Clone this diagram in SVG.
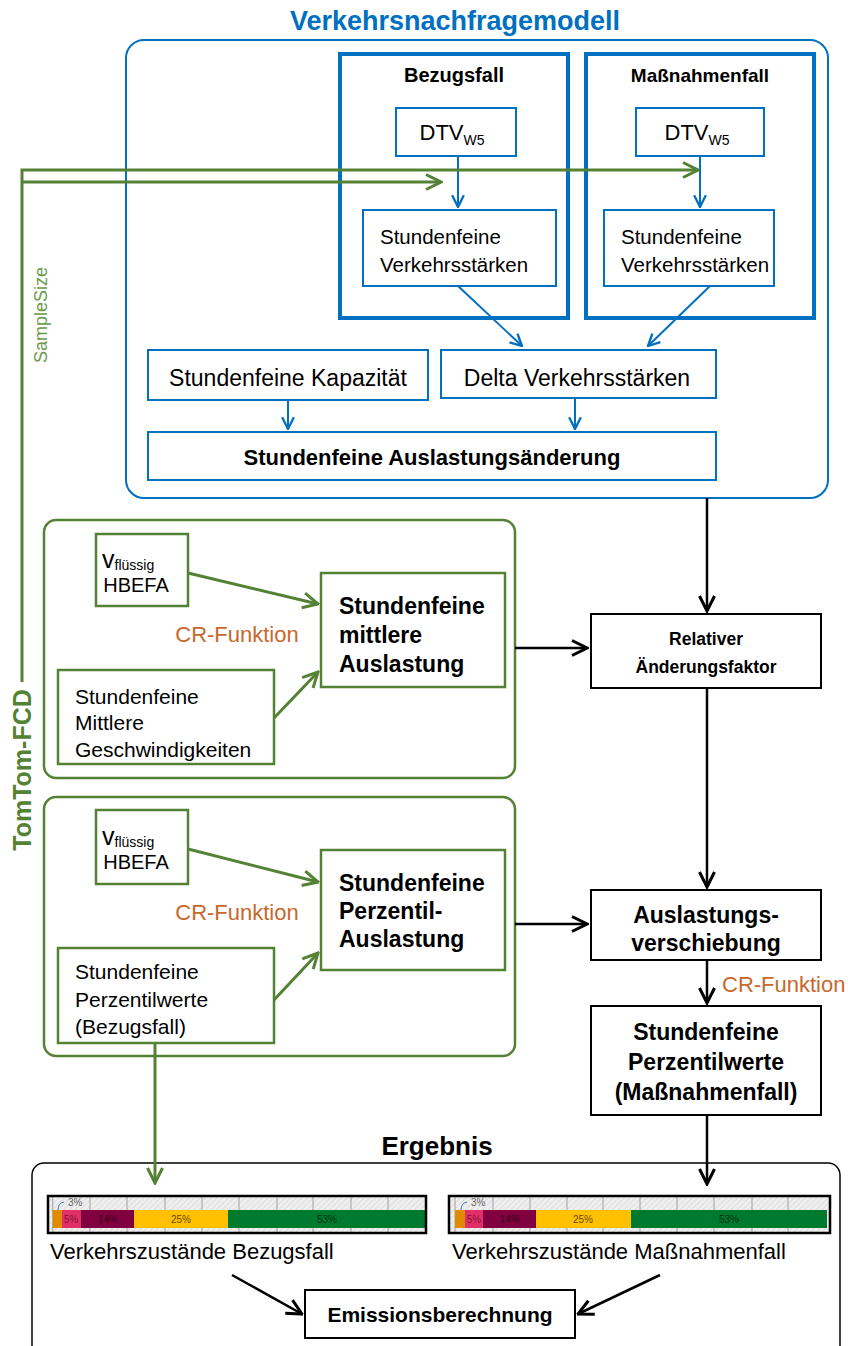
<svg xmlns="http://www.w3.org/2000/svg" width="848" height="1346" viewBox="0 0 848 1346">
<style>
text{font-family:"Liberation Sans",Arial,sans-serif;fill:#000;}
.t{font-size:20.5px;}
.b{font-weight:bold;}
.mid{text-anchor:middle;}
.bl{fill:#fff;stroke:#0070C0;stroke-width:2;}
.blt{fill:none;stroke:#0070C0;stroke-width:4;}
.gb{fill:none;stroke:#548235;stroke-width:2.5;}
.gn{fill:#fff;stroke:#548235;stroke-width:2.5;}
.kb{fill:#fff;stroke:#000;stroke-width:2;}
.cb{fill:none;stroke:#0070C0;stroke-width:2;marker-end:url(#ab);}
.cg{fill:none;stroke:#548235;stroke-width:3;marker-end:url(#ag);}
.ck{fill:none;stroke:#000;stroke-width:2.5;marker-end:url(#ak);}
.cr{fill:#C8682C;font-size:22px;}
.grid{stroke:#a0a0a0;stroke-width:1;}
.pl{font-size:10px;}
.g21{font-size:21px;}
.bb{font-weight:bold;font-size:23px;}
</style>
<defs>
<marker id="ab" viewBox="0 0 12 12" markerWidth="14" markerHeight="14" markerUnits="userSpaceOnUse" refX="11" refY="6" orient="auto"><path d="M1,1 L11,6 L1,11" fill="none" stroke="#0070C0" stroke-width="2"/></marker>
<marker id="ag" viewBox="0 0 12 12" markerWidth="18" markerHeight="18" markerUnits="userSpaceOnUse" refX="11" refY="6" orient="auto"><path d="M1,1 L11,6 L1,11" fill="none" stroke="#548235" stroke-width="2"/></marker>
<marker id="ak" viewBox="0 0 12 12" markerWidth="18" markerHeight="18" markerUnits="userSpaceOnUse" refX="11" refY="6" orient="auto"><path d="M1,1 L11,6 L1,11" fill="none" stroke="#000" stroke-width="2"/></marker>
<pattern id="hatch" width="4" height="4" patternUnits="userSpaceOnUse" patternTransform="rotate(45)"><rect width="4" height="4" fill="#efefef"/><line x1="0" y1="0" x2="0" y2="4" stroke="#d8d8d8" stroke-width="1.5"/></pattern>
</defs>

<g id="verkehrsnachfragemodell">
<text x="455" y="30" class="mid b" style="font-size:27px;fill:#0070C0">Verkehrsnachfragemodell</text>
<rect x="126" y="40" width="702" height="458" rx="18" fill="none" stroke="#0070C0" stroke-width="2"/>
</g>

<g id="bezugsfall">
<rect x="340" y="54" width="228" height="264" class="blt"/>
<text x="454" y="82" class="mid b" style="font-size:20px">Bezugsfall</text>
</g>
<g id="massnahmenfall">
<rect x="586" y="54" width="228" height="264" class="blt"/>
<text x="700" y="82" class="mid b" style="font-size:19px">Maßnahmenfall</text>
</g>

<g id="dtv1">
<rect x="396" y="108" width="120" height="48" class="bl"/>
<text x="452" y="140" class="mid" style="font-size:22px">DTV<tspan dy="5" style="font-size:14px">W5</tspan></text>
</g>
<g id="dtv2">
<rect x="636" y="108" width="128" height="48" class="bl"/>
<text x="697" y="140" class="mid" style="font-size:22px">DTV<tspan dy="5" style="font-size:14px">W5</tspan></text>
</g>

<g id="stv1">
<rect x="363" y="210" width="193" height="76" class="bl"/>
<text x="380" y="244" class="t">Stundenfeine</text>
<text x="380" y="272" class="t">Verkehrsstärken</text>
</g>
<g id="stv2">
<rect x="604" y="210" width="170" height="76" class="bl"/>
<text x="621" y="244" class="t">Stundenfeine</text>
<text x="621" y="272" class="t">Verkehrsstärken</text>
</g>

<g id="kapazitaet">
<rect x="148" y="350" width="280" height="50" class="bl"/>
<text x="288" y="386" class="mid" style="font-size:23px">Stundenfeine Kapazität</text>
</g>
<g id="delta">
<rect x="441" y="350" width="275" height="48" class="bl"/>
<text x="577" y="386" class="mid" style="font-size:23px">Delta Verkehrsstärken</text>
</g>
<g id="auslastungsaenderung">
<rect x="148" y="432" width="568" height="48" class="bl"/>
<text x="432" y="465" class="mid b" style="font-size:22px">Stundenfeine Auslastungsänderung</text>
</g>

<g id="tomtom">
<text transform="translate(47,315) rotate(-90)" class="mid" style="font-size:18px;fill:#6B9A4B">SampleSize</text>
<text transform="translate(31,770) rotate(-90)" class="mid b" style="font-size:25px;fill:#548235">TomTom-FCD</text>
</g>

<g id="gruppe-mittlere">
<rect x="44" y="520" width="471" height="258" rx="12" class="gb"/>
</g>
<g id="vfl1">
<rect x="96" y="534" width="92" height="72" class="gn"/>
<text x="102" y="568" style="font-size:25px">v<tspan dy="2" style="font-size:14px">flüssig</tspan></text>
<text x="136" y="592" class="mid" style="font-size:20px">HBEFA</text>
</g>
<g id="mittlere-auslastung">
<rect x="321" y="573" width="184" height="114" class="gn"/>
<text x="339" y="614" class="bb">Stundenfeine</text>
<text x="339" y="643" class="bb">mittlere</text>
<text x="339" y="672" class="bb">Auslastung</text>
</g>
<text x="237" y="642" class="cr mid">CR-Funktion</text>
<g id="geschwindigkeiten">
<rect x="58" y="670" width="216" height="94" class="gn"/>
<text x="75" y="704" class="g21">Stundenfeine</text>
<text x="75" y="730" class="g21">Mittlere</text>
<text x="75" y="757" class="g21">Geschwindigkeiten</text>
</g>

<g id="gruppe-perzentil">
<rect x="44" y="797" width="471" height="259" rx="12" class="gb"/>
</g>
<g id="vfl2">
<rect x="96" y="810" width="92" height="74" class="gn"/>
<text x="102" y="845" style="font-size:25px">v<tspan dy="2" style="font-size:14px">flüssig</tspan></text>
<text x="136" y="869" class="mid" style="font-size:20px">HBEFA</text>
</g>
<g id="perzentil-auslastung">
<rect x="321" y="850" width="184" height="120" class="gn"/>
<text x="339" y="891" class="bb">Stundenfeine</text>
<text x="339" y="919" class="bb">Perzentil-</text>
<text x="339" y="947" class="bb">Auslastung</text>
</g>
<text x="237" y="920" class="cr mid">CR-Funktion</text>
<g id="perzentilwerte-bezug">
<rect x="58" y="948" width="216" height="95" class="gn"/>
<text x="75" y="979" class="g21">Stundenfeine</text>
<text x="75" y="1007" class="g21">Perzentilwerte</text>
<text x="75" y="1034" class="g21">(Bezugsfall)</text>
</g>

<g id="relativer">
<rect x="591" y="614" width="230" height="74" class="kb"/>
<text x="706" y="645" class="mid b" style="font-size:17.5px">Relativer</text>
<text x="706" y="673" class="mid b" style="font-size:17.5px">Änderungsfaktor</text>
</g>
<g id="verschiebung">
<rect x="591" y="890" width="230" height="70" class="kb"/>
<text x="706" y="923" class="mid bb">Auslastungs-</text>
<text x="706" y="951" class="mid bb">verschiebung</text>
</g>
<text x="722" y="992" class="cr">CR-Funktion</text>
<g id="perzentilwerte-massnahme">
<rect x="591" y="1006" width="230" height="109" class="kb"/>
<text x="706" y="1040" class="mid bb">Stundenfeine</text>
<text x="706" y="1070" class="mid bb">Perzentilwerte</text>
<text x="706" y="1100" class="mid bb">(Maßnahmenfall)</text>
</g>

<g id="ergebnis">
<text x="437" y="1155" class="mid b" style="font-size:26px">Ergebnis</text>
<rect x="32" y="1163" width="808" height="200" rx="12" fill="none" stroke="#000" stroke-width="1.5"/>
</g>

<g id="bar-bezug">
<rect x="48" y="1196" width="378" height="37" fill="url(#hatch)"/>
<g class="grid">
<line x1="52.7" y1="1197" x2="52.7" y2="1232"/><line x1="90" y1="1197" x2="90" y2="1232"/><line x1="127" y1="1197" x2="127" y2="1232"/><line x1="165" y1="1197" x2="165" y2="1232"/><line x1="202" y1="1197" x2="202" y2="1232"/><line x1="239" y1="1197" x2="239" y2="1232"/><line x1="277" y1="1197" x2="277" y2="1232"/><line x1="313" y1="1197" x2="313" y2="1232"/><line x1="351" y1="1197" x2="351" y2="1232"/><line x1="388" y1="1197" x2="388" y2="1232"/>
</g>
<rect x="52.7" y="1210" width="9.3" height="18" fill="#E08A00"/>
<rect x="62" y="1210" width="19" height="18" fill="#E0306A"/>
<rect x="81" y="1210" width="53" height="18" fill="#800040"/>
<rect x="134" y="1210" width="94" height="18" fill="#FFC000"/>
<rect x="228" y="1210" width="197" height="18" fill="#007A2E"/>
<path d="M58,1210 Q58,1203 64,1202" fill="none" stroke="#3A7FC0" stroke-width="1"/>
<text x="68" y="1206" class="pl" style="fill:#666">3%</text>
<text x="71" y="1223" class="pl mid" style="fill:#8A1035">5%</text>
<text x="108" y="1223" class="pl mid" style="fill:#3A0018">14%</text>
<text x="181" y="1223" class="pl mid" style="fill:#6A4A00">25%</text>
<text x="327" y="1223" class="pl mid" style="fill:#003015">53%</text>
<rect x="48" y="1196" width="378" height="37" fill="none" stroke="#000" stroke-width="2.5"/>
<text x="50" y="1259" style="font-size:22px">Verkehrszustände Bezugsfall</text>
</g>

<g id="bar-massnahme">
<rect x="449" y="1196" width="381" height="37" fill="url(#hatch)"/>
<g class="grid">
<line x1="455" y1="1197" x2="455" y2="1232"/><line x1="493" y1="1197" x2="493" y2="1232"/><line x1="530" y1="1197" x2="530" y2="1232"/><line x1="567" y1="1197" x2="567" y2="1232"/><line x1="603" y1="1197" x2="603" y2="1232"/><line x1="640" y1="1197" x2="640" y2="1232"/><line x1="677" y1="1197" x2="677" y2="1232"/><line x1="714" y1="1197" x2="714" y2="1232"/><line x1="752" y1="1197" x2="752" y2="1232"/><line x1="788" y1="1197" x2="788" y2="1232"/>
</g>
<rect x="455" y="1210" width="10" height="18" fill="#E08A00"/>
<rect x="465" y="1210" width="18" height="18" fill="#E0306A"/>
<rect x="483" y="1210" width="53" height="18" fill="#800040"/>
<rect x="536" y="1210" width="95" height="18" fill="#FFC000"/>
<rect x="631" y="1210" width="196" height="18" fill="#007A2E"/>
<path d="M461,1210 Q461,1203 467,1202" fill="none" stroke="#3A7FC0" stroke-width="1"/>
<text x="471" y="1206" class="pl" style="fill:#666">3%</text>
<text x="474" y="1223" class="pl mid" style="fill:#8A1035">5%</text>
<text x="510" y="1223" class="pl mid" style="fill:#3A0018">14%</text>
<text x="583" y="1223" class="pl mid" style="fill:#6A4A00">25%</text>
<text x="729" y="1223" class="pl mid" style="fill:#003015">53%</text>
<rect x="449" y="1196" width="381" height="37" fill="none" stroke="#000" stroke-width="2.5"/>
<text x="452" y="1259" style="font-size:22px">Verkehrszustände Maßnahmenfall</text>
</g>

<g id="emission">
<rect x="305" y="1290" width="270" height="48" class="kb"/>
<text x="440" y="1322" class="mid b" style="font-size:21px">Emissionsberechnung</text>
</g>

<g id="connectors">
<path class="cb" d="M458,156 V207"/>
<path class="cb" d="M700,156 V207"/>
<path class="cb" d="M458,286 L522,346"/>
<path class="cb" d="M710,286 L648,346"/>
<path class="cb" d="M288,400 V429"/>
<path class="cb" d="M575,398 V429"/>
<path class="cg" d="M22,682 V170 H698"/>
<path class="cg" d="M22,182 H441"/>
<path class="cg" d="M188,573 L318,604"/>
<path class="cg" d="M274,718 L318,672"/>
<path class="cg" d="M188,849 L318,882"/>
<path class="cg" d="M274,1000 L318,953"/>
<path class="cg" d="M155,1043 V1183"/>
<path class="ck" d="M707,498 V611"/>
<path class="ck" d="M515,648 H587"/>
<path class="ck" d="M707,688 V887"/>
<path class="ck" d="M515,924 H587"/>
<path class="ck" d="M707,960 V1003"/>
<path class="ck" d="M707,1115 V1184"/>
<path class="ck" d="M232,1275 L302,1314"/>
<path class="ck" d="M660,1275 L578,1314"/>
</g>
</svg>
